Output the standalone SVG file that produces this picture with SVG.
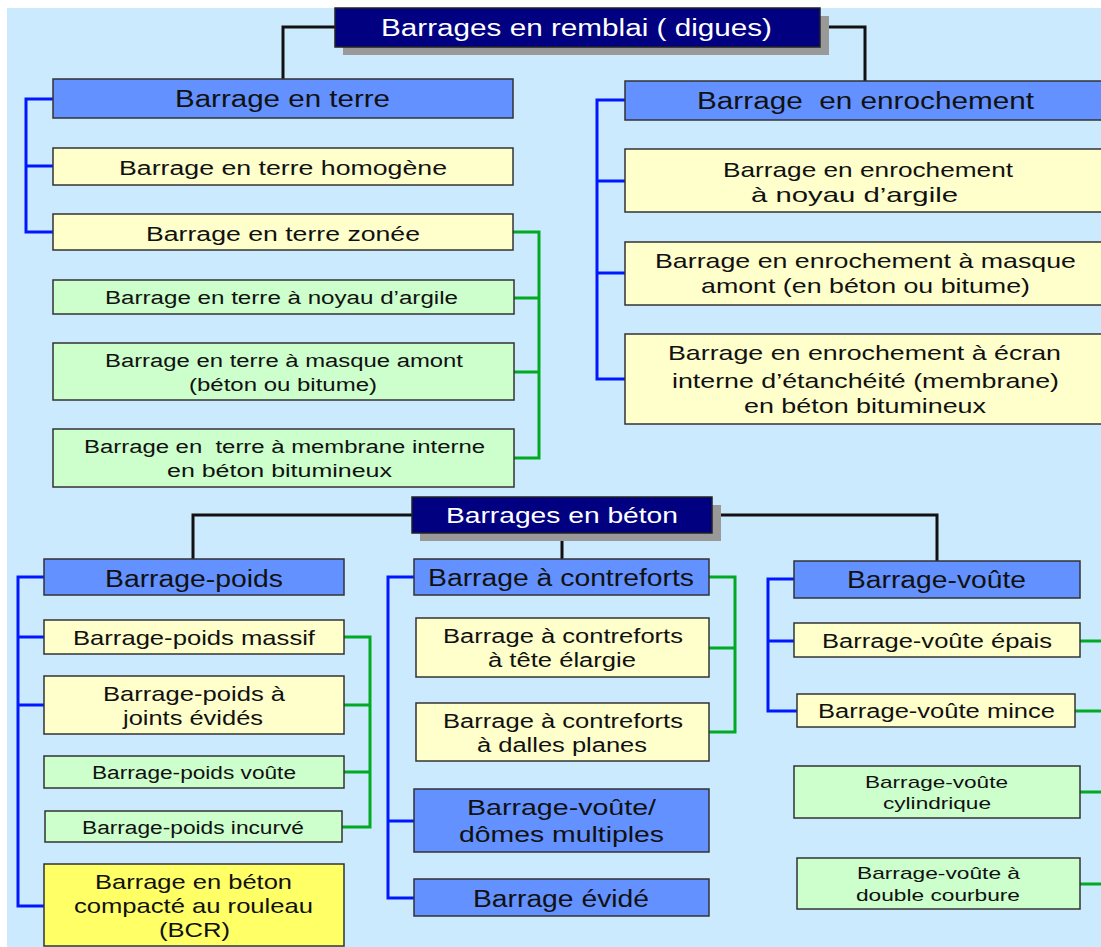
<svg xmlns="http://www.w3.org/2000/svg" width="1101" height="947" viewBox="0 0 1101 947">
<style>
.bg{fill:#cceafd}
.title{fill:#000080;stroke:#222;stroke-width:1.5}
.shadow{fill:#999}
.blue{fill:#6391ff;stroke:#333;stroke-width:1.5}
.yel{fill:#ffffcc;stroke:#333;stroke-width:1.5}
.grn{fill:#ccffcc;stroke:#333;stroke-width:1.5}
.bcr{fill:#ffff66;stroke:#333;stroke-width:1.5}
text{font-family:"Liberation Sans",Arial,Helvetica,sans-serif;fill:#111;white-space:pre}
text.w{fill:#fff}
.cb{fill:none;stroke:#111;stroke-width:3}
.cu{fill:none;stroke:#0018ff;stroke-width:3}
.cg{fill:none;stroke:#00aa22;stroke-width:3}
</style>
<rect x="0" y="0" width="1101" height="947" fill="#fff"/>
<rect class="bg" x="7" y="8" width="1094" height="939"/>
<g id="connectors">
<path class="cb" d="M335,27H283V79M820,27H865V81"/>
<path class="cb" d="M193,559V515H937V561M562,533V559"/>
<path class="cu" d="M53,99H26V232H53M26,166H53"/>
<path class="cu" d="M625,100H597V379H625M597,181H625M597,273H625"/>
<path class="cg" d="M513,232H539V458H514M514,298H539M514,372H539"/>
<path class="cu" d="M44,577H18V906H44M18,637H44M18,705H44"/>
<path class="cg" d="M344,637H370V827H342M344,705H370M344,772H370"/>
<path class="cu" d="M414,577H388V898H414M388,821H414"/>
<path class="cg" d="M709,577H735V732H709M709,648H735"/>
<path class="cu" d="M794,579H768V711H797M768,641H794"/>
<path class="cg" d="M1080,641H1101M1075,711H1101M1080,792H1101M1080,884H1101"/>
</g>
<g id="n-remblai">
<rect class="shadow" x="343" y="16" width="486" height="39"/>
<rect class="title" x="335" y="8" width="485" height="39"/>
<text class="w" x="381" y="36" font-size="23" textLength="391" lengthAdjust="spacingAndGlyphs">Barrages en remblai ( digues)</text>
</g>
<g id="n-terre">
<rect class="blue" x="53" y="79" width="460" height="39"/>
<text x="175" y="107" font-size="23" textLength="215" lengthAdjust="spacingAndGlyphs">Barrage en terre</text>
</g>
<g id="n-homogene">
<rect class="yel" x="53" y="148" width="460" height="37"/>
<text x="119" y="175" font-size="20" textLength="328" lengthAdjust="spacingAndGlyphs">Barrage en terre homogène</text>
</g>
<g id="n-zonee">
<rect class="yel" x="53" y="214" width="460" height="36"/>
<text x="146" y="241" font-size="20" textLength="274" lengthAdjust="spacingAndGlyphs">Barrage en terre zonée</text>
</g>
<g id="n-t-noyau">
<rect class="grn" x="53" y="280" width="461" height="34"/>
<text x="105" y="304" font-size="18" textLength="353" lengthAdjust="spacingAndGlyphs">Barrage en terre à noyau d’argile</text>
</g>
<g id="n-t-masque">
<rect class="grn" x="53" y="343" width="461" height="57"/>
<text x="105" y="367" font-size="18" textLength="358" lengthAdjust="spacingAndGlyphs">Barrage en terre à masque amont</text>
<text x="189" y="391" font-size="18" textLength="188" lengthAdjust="spacingAndGlyphs">(béton ou bitume)</text>
</g>
<g id="n-t-membrane">
<rect class="grn" x="53" y="429" width="461" height="58"/>
<text x="84" y="453" font-size="18" textLength="401" lengthAdjust="spacingAndGlyphs">Barrage en  terre à membrane interne</text>
<text x="167" y="477" font-size="18" textLength="225" lengthAdjust="spacingAndGlyphs">en béton bitumineux</text>
</g>
<g id="n-enrochement">
<rect class="blue" x="625" y="81" width="490" height="39"/>
<text x="697" y="109" font-size="23" textLength="337" lengthAdjust="spacingAndGlyphs">Barrage  en enrochement</text>
</g>
<g id="n-e-noyau">
<rect class="yel" x="625" y="149" width="490" height="63"/>
<text x="723" y="177" font-size="21" textLength="290" lengthAdjust="spacingAndGlyphs">Barrage en enrochement</text>
<text x="751" y="202" font-size="21" textLength="207" lengthAdjust="spacingAndGlyphs">à noyau d’argile</text>
</g>
<g id="n-e-masque">
<rect class="yel" x="625" y="242" width="490" height="63"/>
<text x="655" y="268" font-size="21" textLength="421" lengthAdjust="spacingAndGlyphs">Barrage en enrochement à masque</text>
<text x="701" y="293" font-size="21" textLength="329" lengthAdjust="spacingAndGlyphs">amont (en béton ou bitume)</text>
</g>
<g id="n-e-ecran">
<rect class="yel" x="625" y="334" width="490" height="90"/>
<text x="668" y="360" font-size="21" textLength="393" lengthAdjust="spacingAndGlyphs">Barrage en enrochement à écran</text>
<text x="672" y="388" font-size="21" textLength="387" lengthAdjust="spacingAndGlyphs">interne d’étanchéité (membrane)</text>
<text x="744" y="413" font-size="21" textLength="242" lengthAdjust="spacingAndGlyphs">en béton bitumineux</text>
</g>
<g id="n-beton">
<rect class="shadow" x="420" y="505" width="301" height="36"/>
<rect class="title" x="412" y="497" width="300" height="36"/>
<text class="w" x="446" y="523" font-size="22" textLength="232" lengthAdjust="spacingAndGlyphs">Barrages en béton</text>
</g>
<g id="n-poids">
<rect class="blue" x="44" y="559" width="300" height="36"/>
<text x="105" y="587" font-size="23" textLength="178" lengthAdjust="spacingAndGlyphs">Barrage-poids</text>
</g>
<g id="n-massif">
<rect class="yel" x="44" y="620" width="300" height="34"/>
<text x="73" y="645" font-size="21" textLength="242" lengthAdjust="spacingAndGlyphs">Barrage-poids massif</text>
</g>
<g id="n-joints">
<rect class="yel" x="44" y="676" width="300" height="58"/>
<text x="103" y="701" font-size="21" textLength="182" lengthAdjust="spacingAndGlyphs">Barrage-poids à</text>
<text x="123" y="725" font-size="21" textLength="140" lengthAdjust="spacingAndGlyphs">joints évidés</text>
</g>
<g id="n-p-voute">
<rect class="grn" x="44" y="756" width="300" height="32"/>
<text x="92" y="779" font-size="18" textLength="204" lengthAdjust="spacingAndGlyphs">Barrage-poids voûte</text>
</g>
<g id="n-incurve">
<rect class="grn" x="45" y="811" width="297" height="31"/>
<text x="82" y="834" font-size="18" textLength="222" lengthAdjust="spacingAndGlyphs">Barrage-poids incurvé</text>
</g>
<g id="n-bcr">
<rect class="bcr" x="44" y="864" width="300" height="82"/>
<text x="95" y="889" font-size="21" textLength="197" lengthAdjust="spacingAndGlyphs">Barrage en béton</text>
<text x="74" y="913" font-size="21" textLength="239" lengthAdjust="spacingAndGlyphs">compacté au rouleau</text>
<text x="159" y="937" font-size="21" textLength="71" lengthAdjust="spacingAndGlyphs">(BCR)</text>
</g>
<g id="n-contreforts">
<rect class="blue" x="414" y="559" width="295" height="36"/>
<text x="428" y="586" font-size="23" textLength="266" lengthAdjust="spacingAndGlyphs">Barrage à contreforts</text>
</g>
<g id="n-tete">
<rect class="yel" x="416" y="618" width="293" height="59"/>
<text x="443" y="643" font-size="20" textLength="240" lengthAdjust="spacingAndGlyphs">Barrage à contreforts</text>
<text x="488" y="667" font-size="20" textLength="148" lengthAdjust="spacingAndGlyphs">à tête élargie</text>
</g>
<g id="n-dalles">
<rect class="yel" x="416" y="703" width="293" height="58"/>
<text x="443" y="728" font-size="20" textLength="240" lengthAdjust="spacingAndGlyphs">Barrage à contreforts</text>
<text x="477" y="752" font-size="20" textLength="170" lengthAdjust="spacingAndGlyphs">à dalles planes</text>
</g>
<g id="n-domes">
<rect class="blue" x="414" y="789" width="295" height="63"/>
<text x="467" y="815" font-size="22" textLength="189" lengthAdjust="spacingAndGlyphs">Barrage-voûte/</text>
<text x="459" y="842" font-size="22" textLength="205" lengthAdjust="spacingAndGlyphs">dômes multiples</text>
</g>
<g id="n-evide">
<rect class="blue" x="414" y="879" width="295" height="37"/>
<text x="473" y="907" font-size="23" textLength="176" lengthAdjust="spacingAndGlyphs">Barrage évidé</text>
</g>
<g id="n-voute">
<rect class="blue" x="794" y="561" width="286" height="37"/>
<text x="847" y="588" font-size="23" textLength="179" lengthAdjust="spacingAndGlyphs">Barrage-voûte</text>
</g>
<g id="n-epais">
<rect class="yel" x="794" y="623" width="286" height="34"/>
<text x="822" y="648" font-size="20" textLength="230" lengthAdjust="spacingAndGlyphs">Barrage-voûte épais</text>
</g>
<g id="n-mince">
<rect class="yel" x="797" y="694" width="278" height="33"/>
<text x="818" y="718" font-size="20" textLength="237" lengthAdjust="spacingAndGlyphs">Barrage-voûte mince</text>
</g>
<g id="n-cylindrique">
<rect class="grn" x="794" y="766" width="286" height="52"/>
<text x="865" y="788" font-size="17" textLength="143" lengthAdjust="spacingAndGlyphs">Barrage-voûte</text>
<text x="883" y="809" font-size="17" textLength="108" lengthAdjust="spacingAndGlyphs">cylindrique</text>
</g>
<g id="n-double">
<rect class="grn" x="797" y="858" width="283" height="51"/>
<text x="857" y="879" font-size="17" textLength="163" lengthAdjust="spacingAndGlyphs">Barrage-voûte à</text>
<text x="856" y="901" font-size="17" textLength="164" lengthAdjust="spacingAndGlyphs">double courbure</text>
</g>
</svg>
